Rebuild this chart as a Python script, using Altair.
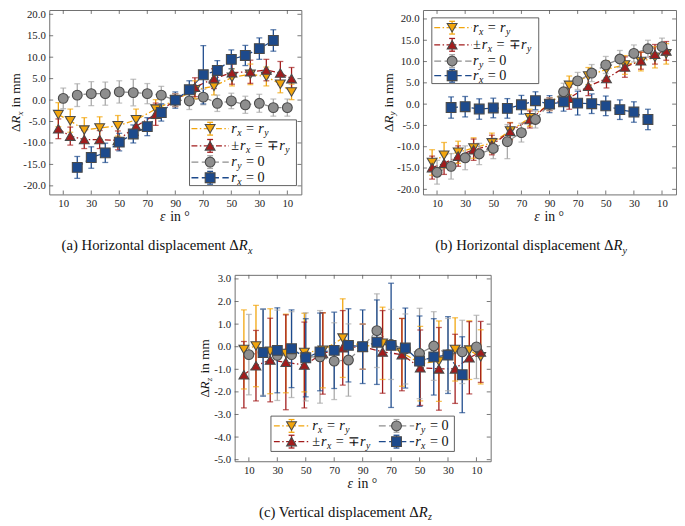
import math
import altair as alt
import pandas as pd

FONT = "Liberation Serif"

# x positions on one 0..180 axis: rising angle 0-90, then falling angle back to 0
pos_tri = [6.5, 15, 25, 36, 49, 62, 76, 90, 104, 117.6, 130.5, 143.6, 155, 165, 173]
pos_circ = [10, 20, 30, 40, 50, 60, 70, 80, 90, 100, 110, 120, 130, 140, 150, 160, 170]
pos_sq = [20, 30, 40, 50, 60, 70, 80, 90, 100, 110, 120, 130, 140, 150, 160]
x_ticks = [10, 30, 50, 70, 90, 110, 130, 150, 170]

# (a) horizontal displacement dR_x
a_rxry = [-3.4, -4.8, -7.0, -6.5, -6.0, -4.6, -2.1, 0.0, 2.4, 3.2, 5.3, 6.0, 5.5, 3.7, 1.9]
a_rxry_err = [2.8, 2.7, 2.9, 2.6, 2.4, 2.5, 2.2, 1.5, 2.1, 2.0, 2.0, 2.4, 2.2, 2.0, 1.8]
a_pm = [-6.7, -8.4, -9.2, -9.2, -9.4, -6.1, -3.3, 0.0, 3.0, 5.0, 6.4, 6.6, 7.0, 6.3, 5.0]
a_pm_err = [2.3, 2.1, 2.1, 2.1, 2.2, 2.1, 2.6, 1.5, 2.2, 2.3, 2.7, 2.7, 2.5, 2.7, 2.6]
a_ry0 = [0.4, 1.15, 1.5, 1.5, 1.9, 1.75, 1.5, 1.15, 0.0, -0.2, 0.7, -0.75, -0.2, -1.1, -0.75, -1.75, -1.75]
a_ry0_err = [2.4, 2.65, 2.8, 2.7, 2.6, 3.1, 2.35, 2.05, 1.5, 2.0, 1.8, 1.9, 1.8, 2.0, 2.1, 2.0, 2.0]
a_rx0 = [-15.7, -13.4, -12.3, -9.8, -7.9, -6.2, -2.9, 0.0, 2.4, 5.9, 6.9, 9.5, 10.4, 12.0, 13.9]
a_rx0_err = [2.55, 2.5, 2.25, 2.05, 2.1, 2.1, 2.0, 1.9, 2.1, 6.8, 2.3, 2.2, 2.35, 2.5, 2.5]

# (b) horizontal displacement dR_y
b_rxry = [-13.7, -12.0, -11.3, -10.3, -9.1, -6.3, -3.2, 0.0, 4.4, 6.6, 8.2, 9.2, 10.0, 11.0, 11.8]
b_rxry_err = [3.0, 3.0, 2.6, 2.4, 2.3, 2.0, 2.0, 1.5, 2.2, 2.0, 2.0, 2.2, 2.2, 2.5, 2.4]
b_pm = [-14.9, -13.9, -12.2, -10.7, -9.6, -6.4, -3.6, 0.0, 1.4, 4.2, 6.0, 8.7, 10.2, 11.7, 12.5]
b_pm_err = [2.7, 2.6, 2.4, 2.5, 2.3, 2.0, 2.0, 1.5, 2.6, 2.2, 2.2, 2.4, 2.0, 2.3, 2.2]
b_ry0 = [-16.0, -14.6, -12.6, -11.7, -10.4, -8.8, -6.7, -3.6, 0.0, 2.9, 5.45, 7.3, 9.2, 10.6, 11.9, 13.0, 13.5]
b_ry0_err = [2.8, 3.0, 2.8, 2.5, 2.4, 4.0, 2.2, 2.0, 1.5, 2.0, 2.0, 2.0, 2.0, 2.0, 2.0, 2.0, 2.0]
b_rx0 = [-0.8, -0.6, -1.15, -0.9, -1.0, -0.15, 0.8, 0.0, 0.55, 0.25, 0.1, -0.4, -1.3, -1.85, -3.6]
b_rx0_err = [2.5, 2.4, 2.4, 2.3, 2.3, 2.2, 2.1, 2.0, 2.2, 2.8, 2.3, 2.3, 2.3, 2.4, 2.4]

# (c) vertical displacement dR_z
c_rxry = [-0.12, 0.03, -0.2, -0.3, -0.26, -0.16, 0.38, 0.0, 0.15, -0.25, -0.75, -0.64, -0.12, -0.15, -0.45]
c_rxry_err = [1.75, 1.8, 1.88, 1.74, 1.74, 1.66, 1.74, 1.0, 1.6, 1.5, 1.65, 1.78, 1.4, 1.3, 1.2]
c_pm = [-1.24, -0.84, -0.59, -0.69, -0.81, -0.3, -0.05, 0.0, -0.23, -0.35, -0.93, -0.98, -0.98, -0.49, -0.23]
c_pm_err = [1.47, 1.56, 1.85, 2.1, 1.9, 1.8, 1.65, 1.0, 1.83, 1.6, 1.67, 1.83, 1.53, 1.6, 1.35]
c_ry0 = [-0.35, -0.25, -0.38, -0.35, -0.45, -0.45, -0.64, -0.59, 0.0, 0.71, 0.1, -0.1, -0.3, 0.03, -0.35, -0.23, -0.01]
c_ry0_err = [1.78, 1.9, 2.0, 1.9, 1.95, 2.05, 1.7, 1.6, 1.0, 1.63, 1.55, 1.55, 2.0, 1.52, 1.6, 1.4, 1.4]
c_rx0 = [-0.26, -0.16, -0.09, -0.49, -0.23, -0.16, 0.06, 0.0, 0.2, 0.06, -0.06, -0.64, -0.45, -0.37, -1.24]
c_rx0_err = [1.93, 1.88, 1.72, 1.73, 1.72, 1.69, 1.62, 1.63, 1.87, 2.75, 1.77, 2.0, 1.69, 1.7, 1.68]

SERIES = ["rxry", "pm", "ry0", "rx0"]
POS = [pos_tri, pos_tri, pos_circ, pos_sq]
COLORS = ["#F2A50C", "#A21C1C", "#8E8E8E", "#1D4A8C"]
ERR_COLORS = ["#F2A50C", "#A21C1C", "#A9A9A9", "#1D4A8C"]
DASHES = [[6, 2.5, 1.5, 2.5], [6, 2.5, 1.5, 2.5], [7, 3.5], [7, 3.5]]
SHAPES = ["triangle-down", "triangle-up", "circle", "square"]
SIZES = [100, 100, 90, 72]
# piece kinds: i = italic, s = subscript, R = right-aligned at its end
LABELS = [
    [("r", "i"), ("x", "si"), (" = ", "n"), ("r", "i"), ("y", "si")],
    [("±", "n"), ("r", "i"), ("x", "si"), (" = ", "n"), ("∓", "n"), ("r", "i"), ("y", "si")],
    [("r", "i"), ("y", "si"), (" = 0", "n")],
    [("r", "i"), ("x", "si"), (" = 0", "n")],
]

# rough glyph widths (em) for laying out text pieces with subscripts
EM = {" ": .3, "(": .333, ")": .333, "=": .564, "±": .62, "∓": .85, "°": .4,
      "Δ": .612, "ε": .44, "H": .722, "V": .722, "R": .62, "m": .778, "i": .278,
      "l": .278, "t": .278, "r": .42, "s": .389, "z": .42, "a": .444, "c": .444,
      "e": .444, "x": .47, "y": .47}


def text_width(s, fs):
    return sum(EM.get(ch, .5) for ch in s) * fs


def rich(pieces, x, y, fs, angle=0, anchor="start"):
    th = math.radians(angle)
    ux, uy = math.cos(th), math.sin(th)      # reading direction
    dx, dy = -math.sin(th), math.cos(th)     # "down" in the text frame
    sizes = [fs * 0.68 if "s" in k else fs for _, k in pieces]
    widths = [text_width(t, s) for (t, _), s in zip(pieces, sizes)]
    off = -sum(widths) / 2 if anchor == "middle" else 0
    rows = []
    for (t, k), s, wd in zip(pieces, sizes, widths):
        lead = len(t) - len(t.lstrip(" "))
        o = off + wd if "R" in k else off + lead * EM[" "] * s
        drop = 0.22 * fs if "s" in k else 0
        rows.append({"px": x + ux * o + dx * drop, "py": y + uy * o + dy * drop,
                     "t": t.strip(), "fs": s, "it": "i" in k,
                     "al": "right" if "R" in k else "left", "ang": angle})
        off += wd
    return rows


def panel(vals, errs, ydom, yticks, w, h, sub, caption, ytx, legend):
    rows, caps = [], []
    for s, xs, ys, es in zip(SERIES, POS, vals, errs):
        for x, v, e in zip(xs, ys, es):
            rows.append({"series": s, "pos": x, "val": v, "lo": v - e, "hi": v + e})
            caps += [{"series": s, "pos": x, "cap": v - e}, {"series": s, "pos": x, "cap": v + e}]
    df = pd.DataFrame(rows)
    cdf = pd.DataFrame(caps)

    xsc = alt.Scale(domain=[0, 180], nice=False, zero=False)
    ysc = alt.Scale(domain=ydom, nice=False, zero=False)
    xax = alt.Axis(values=x_ticks, labelExpr="datum.value <= 90 ? datum.value : 180 - datum.value",
                   title=None, grid=False, domain=False, ticks=False, tickSize=0, labelPadding=3,
                   labelFont=FONT, labelFontSize=11, labelColor="#222")
    yax = alt.Axis(values=yticks, labelExpr="replace(format(datum.value, '.1f'), '\u2212', '-')",
                   title=None, grid=False, domain=False, ticks=False, tickSize=0, labelPadding=4,
                   labelFont=FONT, labelFontSize=11, labelColor="#222")
    X = alt.X("pos:Q", scale=xsc, axis=xax)
    col = alt.Color("series:N", scale=alt.Scale(domain=SERIES, range=COLORS), legend=None)
    ecol = alt.Stroke("series:N", scale=alt.Scale(domain=SERIES, range=ERR_COLORS), legend=None)
    efill = alt.Fill("series:N", scale=alt.Scale(domain=SERIES, range=ERR_COLORS), legend=None)
    dash = alt.StrokeDash("series:N", scale=alt.Scale(domain=SERIES, range=DASHES), legend=None)
    shp = alt.Shape("series:N", scale=alt.Scale(domain=SERIES, range=SHAPES), legend=None)
    siz = alt.Size("series:N", scale=alt.Scale(domain=SERIES, range=SIZES), legend=None)

    # inward tick marks on all four sides of the frame
    tx = pd.DataFrame({"t": x_ticks})
    ty = pd.DataFrame({"t": yticks})
    tick_style = dict(stroke="#555", strokeWidth=0.8)
    xt_bot = alt.Chart(tx).mark_rule(**tick_style).encode(
        x=alt.X("t:Q", scale=xsc, axis=xax), y=alt.value(h - 4), y2=alt.value(h))
    xt_top = alt.Chart(tx).mark_rule(**tick_style).encode(
        x=alt.X("t:Q", scale=xsc, axis=xax), y=alt.value(0), y2=alt.value(4))
    yt_left = alt.Chart(ty).mark_rule(**tick_style).encode(
        y=alt.Y("t:Q", scale=ysc, axis=yax), x=alt.value(0), x2=alt.value(4))
    yt_right = alt.Chart(ty).mark_rule(**tick_style).encode(
        y=alt.Y("t:Q", scale=ysc, axis=yax), x=alt.value(w - 4), x2=alt.value(w))

    lines = alt.Chart(df).mark_line(strokeWidth=1.3).encode(
        x=X, y=alt.Y("val:Q", scale=ysc, axis=yax), color=col, strokeDash=dash)
    bars = alt.Chart(df).mark_rule(strokeWidth=1.3).encode(
        x=X, y=alt.Y("lo:Q", scale=ysc, axis=yax), y2="hi", stroke=ecol)
    ticks = alt.Chart(cdf).mark_tick(orient="horizontal", size=6, thickness=1.3).encode(
        x=X, y=alt.Y("cap:Q", scale=ysc, axis=yax), fill=efill)
    pts = alt.Chart(df).mark_point(filled=True, opacity=1, stroke="#4a4a4a", strokeWidth=1.1).encode(
        x=X, y=alt.Y("val:Q", scale=ysc, axis=yax), color=col, shape=shp, size=siz)

    # legend drawn in pixel space
    def PX(f):
        return alt.X(f + ":Q", scale=None, axis=None)

    def PY(f):
        return alt.Y(f + ":Q", scale=None, axis=None)

    bx0, by0, bx1, by1 = legend["box"]
    box = alt.Chart(pd.DataFrame([{"x0": bx0, "x1": bx1, "y0": by0, "y1": by1}])).mark_rect(
        fill="white", stroke="#4d4d4d", strokeWidth=0.9).encode(
        x=PX("x0"), x2="x1", y=PY("y0"), y2="y1")
    lrows, lcaps, trows = [], [], []
    for i, sx0, sx1, mx, my, tx0 in legend["entries"]:
        lrows.append({"series": SERIES[i], "sx0": sx0, "sx1": sx1, "mx": mx, "my": my,
                      "e0": my - 6.5, "e1": my + 6.5})
        lcaps += [{"series": SERIES[i], "c0": mx - 3, "c1": mx + 3, "cy": my - 6.5},
                  {"series": SERIES[i], "c0": mx - 3, "c1": mx + 3, "cy": my + 6.5}]
        trows += rich(LABELS[i], tx0, my + 4, 14.5)
    ldf = pd.DataFrame(lrows)
    seg = alt.Chart(ldf).mark_rule(strokeWidth=1.3).encode(
        x=PX("sx0"), x2="sx1", y=PY("my"), color=col, strokeDash=dash)
    lbar = alt.Chart(ldf).mark_rule(strokeWidth=1.3).encode(x=PX("mx"), y=PY("e0"), y2="e1", stroke=ecol)
    lcap = alt.Chart(pd.DataFrame(lcaps)).mark_rule(strokeWidth=1.3).encode(
        x=PX("c0"), x2="c1", y=PY("cy"), stroke=ecol)
    lpts = alt.Chart(ldf).mark_point(filled=True, opacity=1, stroke="#4a4a4a", strokeWidth=1.1).encode(
        x=PX("mx"), y=PY("my"), color=col, shape=shp, size=siz)

    # axis titles and caption with subscripts
    trows += rich([("Δ", "n"), ("R", "i"), (sub, "si"), (" in mm", "n")], ytx, h / 2, 13.5, 270, "middle")
    trows += rich([("ε", "i"), (" in °", "n")], w / 2, h + 27, 14, 0, "middle")
    trows += rich(caption + [("R", "i"), (sub, "si")], w / 2 - 20, h + 57, 15, 0, "middle")
    tdf = pd.DataFrame(trows)

    texts = []
    for italic in (False, True):
        for al in ("left", "right"):
            part = tdf[(tdf["it"] == italic) & (tdf["al"] == al)]
            if len(part):
                texts.append(alt.Chart(part).mark_text(
                    align=al, baseline="alphabetic", font=FONT, color="#111",
                    fontStyle="italic" if italic else "normal").encode(
                    x=PX("px"), y=PY("py"), text="t:N",
                    size=alt.Size("fs:Q", scale=None, legend=None),
                    angle=alt.Angle("ang:Q", scale=None)))

    return alt.layer(xt_bot, xt_top, yt_left, yt_right, lines, bars, ticks, pts,
                     box, seg, lbar, lcap, lpts, *texts).properties(width=w, height=h)


ab_ticks = [20, 15, 10, 5, 0, -5, -10, -15, -20]
c_ticks = [3, 2, 1, 0, -1, -2, -3, -4, -5]

leg_a = {"box": (143, 112, 252, 179),
         "entries": [(i, 145, 183, 164, yy, 185.5) for i, yy in enumerate([121, 138.5, 155, 171])]}
leg_b = {"box": (9, 8, 118, 75),
         "entries": [(i, 11.5, 49.5, 29.7, yy, 51) for i, yy in enumerate([18, 35.5, 52, 67])]}
leg_c = {"box": (37, 144, 224, 180),
         "entries": [(0, 40, 76, 58, 154, 79), (2, 147, 183, 165, 154, 184),
                     (1, 40, 76, 58, 170, 79), (3, 147, 183, 165, 170, 184)]}

chart_a = panel([a_rxry, a_pm, a_ry0, a_rx0], [a_rxry_err, a_pm_err, a_ry0_err, a_rx0_err],
                [-22, 21], ab_ticks, 257, 188, "x",
                [("(a) Horizontal displacement Δ", "nR")], -30, leg_a)
chart_b = panel([b_rxry, b_pm, b_ry0, b_rx0], [b_rxry_err, b_pm_err, b_ry0_err, b_rx0_err],
                [-21.2, 22.1], ab_ticks, 258, 188, "y",
                [("(b) Horizontal displacement Δ", "nR")], -31, leg_b)
chart_c = panel([c_rxry, c_pm, c_ry0, c_rx0], [c_rxry_err, c_pm_err, c_ry0_err, c_rx0_err],
                [-5.07, 3.18], c_ticks, 261, 190, "z",
                [("(c) Vertical displacement Δ", "nR")], -26, leg_c)

chart = alt.vconcat(
    alt.hconcat(chart_a, chart_b, spacing=80),
    chart_c, spacing=16, center=True,
).properties(
    padding={"left": 0, "top": -6, "right": 0, "bottom": 0}
).configure_view(stroke="#6e6e6e", strokeWidth=1)

chart.save("out.html", embed_options={"renderer": "svg", "actions": False})
